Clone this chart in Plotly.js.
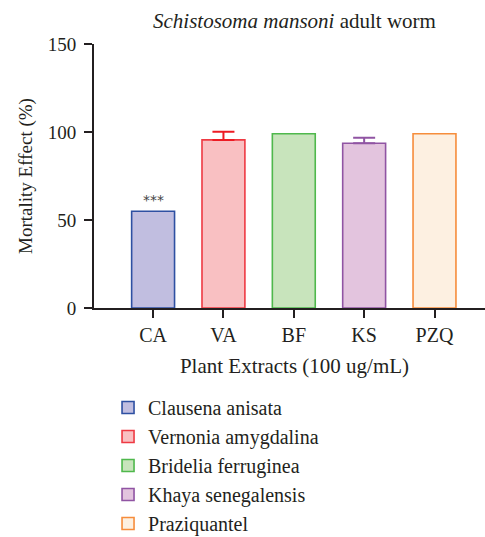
<!DOCTYPE html>
<html>
<head>
<meta charset="utf-8">
<script src="https://cdn.plot.ly/plotly-3.0.1.min.js"></script>
<style>
html,body{margin:0;padding:0;overflow:hidden;background:#fff;}
#chart{width:495px;height:537px;}
</style>
</head>
<body>
<div id="chart"></div>
<script>
const categories = ["CA", "VA", "BF", "KS", "PZQ"];
const seriesNames = ["Clausena anisata", "Vernonia amygdalina", "Bridelia ferruginea", "Khaya senegalensis", "Praziquantel"];
const mortality = [55, 95.5, 99, 93.6, 99];
const errorUp = [0, 4.7, 0, 3.2, 0];
const yTicks = [0, 50, 100, 150];

const fills = ["#c1bee0", "#f9c0c2", "#c8e4bc", "#e3c4de", "#fdf0e1"];
const borders = ["#2e50a2", "#ee3a43", "#4fb84c", "#9054a3", "#f68d3c"];
const errColors = ["#2e50a2", "#ed1c24", "#4fb84c", "#9054a3", "#f68d3c"];

const serif = "'Liberation Serif', 'DejaVu Serif', serif";
const axisColor = "#231f20";

const traces = categories.map((c, i) => ({
  type: "bar",
  x: [c],
  y: [mortality[i]],
  name: seriesNames[i],
  width: 0.61,
  marker: {color: fills[i], line: {color: borders[i], width: 1.6}},
  error_y: errorUp[i] > 0 ? {
    type: "data", symmetric: false, array: [errorUp[i]], arrayminus: [0],
    color: errColors[i], thickness: 2, width: 11
  } : {visible: false},
  hoverinfo: "x+y"
}));

const layout = {
  width: 495,
  height: 537,
  margin: {l: 94, r: 0, t: 44, b: 229, autoexpand: false},
  paper_bgcolor: "#fff",
  plot_bgcolor: "#fff",
  barmode: "overlay",
  font: {family: serif, size: 19, color: axisColor},
  title: {
    text: "<i>Schistosoma mansoni</i> adult worm",
    font: {family: serif, size: 21, color: axisColor},
    xref: "paper", x: 0.5, xanchor: "center",
    yref: "container", y: 0.962, yanchor: "middle"
  },
  xaxis: {
    type: "category",
    categoryorder: "array",
    categoryarray: categories,
    range: [-0.84, 4.86],
    showline: true, linecolor: axisColor, linewidth: 2,
    ticks: "outside", ticklen: 8, tickwidth: 2, tickcolor: axisColor,
    tickfont: {family: serif, size: 20, color: axisColor},
    tickangle: 0,
    showgrid: false, zeroline: false,
    title: {text: "Plant Extracts (100 ug/mL)", font: {family: serif, size: 21, color: axisColor}, standoff: 13}
  },
  yaxis: {
    range: [0, 150],
    tickvals: yTicks,
    ticktext: yTicks.map(String),
    showline: true, linecolor: axisColor, linewidth: 2,
    ticks: "outside", ticklen: 8, tickwidth: 2, tickcolor: axisColor,
    tickfont: {family: serif, size: 19, color: axisColor},
    ticklabelstandoff: 4,
    showgrid: false, zeroline: false,
    title: {text: "Mortality Effect (%)", font: {family: serif, size: 19, color: axisColor}, standoff: 10}
  },
  showlegend: true,
  legend: {
    x: 0.035, xanchor: "left",
    y: -0.303, yanchor: "top",
    font: {family: serif, size: 20, color: axisColor},
    traceorder: "normal",
    bgcolor: "rgba(0,0,0,0)"
  },
  annotations: [{
    x: "CA", y: mortality[0], xref: "x", yref: "y",
    text: "***", showarrow: false, yanchor: "bottom", yshift: 1,
    font: {family: "DejaVu Sans, sans-serif", size: 14, color: "#444"}
  }]
};

Plotly.newPlot("chart", traces, layout, {displayModeBar: false, responsive: false});
</script>
</body>
</html>
